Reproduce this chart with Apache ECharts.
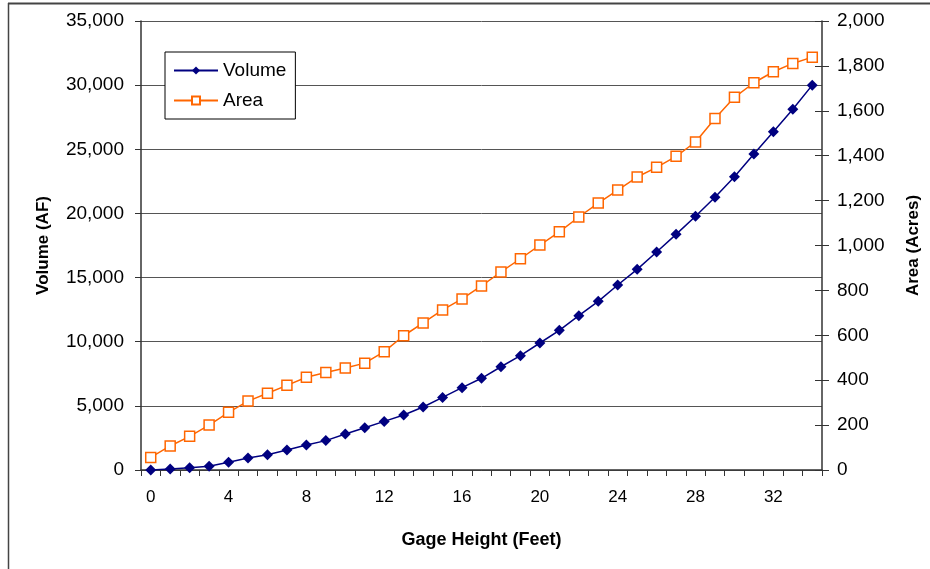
<!DOCTYPE html>
<html lang="en">
<head>
    <meta charset="UTF-8">
    <title>Gage Height - Volume / Area</title>
    <script type="text/javascript" src="https://cdn.jsdelivr.net/npm/echarts@6/dist/echarts.min.js"></script>
    <style>
        html, body { margin: 0; padding: 0; background: #fff; }
    </style>
</head>
<body>
    <div id="main" style="width: 930px;height:569px;"></div>
    <script type="text/javascript">
        // gage height in feet, 0..34
        const heights = ['0', '1', '2', '3', '4', '5', '6', '7', '8', '9', '10', '11', '12', '13', '14', '15', '16',
            '17', '18', '19', '20', '21', '22', '23', '24', '25', '26', '27', '28', '29', '30', '31', '32', '33', '34'];

        // volume (AF)
        const volume = [0, 80, 180, 290, 600, 935, 1190, 1560, 1950, 2290, 2800, 3300, 3790, 4290, 4910, 5660, 6420,
            7150, 8050, 8910, 9900, 10890, 12030, 13150, 14420, 15640, 16990, 18370, 19780, 21260, 22860, 24630,
            26370, 28120, 30000];

        // area (acres)
        const area = [56, 107, 150, 200, 257, 307, 342, 377, 413, 434, 454, 476, 527, 598, 655, 713, 762,
            820, 882, 941, 1002, 1061, 1127, 1189, 1247, 1305, 1348, 1397, 1461, 1566, 1660, 1725,
            1774, 1811, 1839];

        const fontName = 'Liberation Sans, Arial, sans-serif';
        const fmt = function (v) { return v.toLocaleString('en-US'); };

        const myChart = echarts.init(document.getElementById('main'));
        const option = {
            animation: false,
            backgroundColor: '#fff',
            grid: {
                left: 141,
                right: 107,
                top: 21,
                bottom: 99,
                containLabel: false
            },
            legend: {
                orient: 'vertical',
                left: 165,
                top: 52,
                padding: [9, 9, 9, 8],
                itemGap: 11,
                itemWidth: 44,
                itemHeight: 10,
                borderColor: '#000',
                borderWidth: 1,
                borderRadius: 0,
                backgroundColor: '#fff',
                textStyle: { fontFamily: fontName, fontSize: 19, color: '#000' },
                data: ['Volume', 'Area']
            },
            xAxis: {
                type: 'category',
                data: heights,
                boundaryGap: true,
                name: 'Gage Height (Feet)',
                nameLocation: 'middle',
                nameGap: 61,
                nameTextStyle: { fontFamily: fontName, fontSize: 18, fontWeight: 'bold', color: '#000' },
                axisLine: { lineStyle: { color: '#333', width: 1.5 } },
                axisTick: { show: true, interval: 0, length: 6, lineStyle: { color: '#333' } },
                axisLabel: { interval: 3, margin: 19, fontFamily: fontName, fontSize: 17, color: '#000' },
                splitLine: { show: false }
            },
            yAxis: [{
                type: 'value',
                min: 0,
                max: 35000,
                interval: 5000,
                name: 'Volume (AF)',
                nameLocation: 'middle',
                nameGap: 89,
                nameTextStyle: { fontFamily: fontName, fontSize: 17, fontWeight: 'bold', color: '#000' },
                axisLine: { show: true, lineStyle: { color: '#333', width: 1.5 } },
                axisTick: { show: true, length: 6, lineStyle: { color: '#333' } },
                axisLabel: { margin: 17, fontFamily: fontName, fontSize: 19, color: '#000', formatter: fmt },
                splitLine: { show: true, lineStyle: { color: '#555', width: 1 } }
            }, {
                type: 'value',
                min: 0,
                max: 2000,
                interval: 200,
                name: 'Area (Acres)',
                nameLocation: 'middle',
                nameGap: 83,
                nameRotate: 90,
                nameTextStyle: { fontFamily: fontName, fontSize: 17, fontWeight: 'bold', color: '#000' },
                axisLine: { show: true, lineStyle: { color: '#333', width: 1.5 } },
                axisTick: { show: true, length: 7, lineStyle: { color: '#333' } },
                axisLabel: { margin: 15, fontFamily: fontName, fontSize: 19, color: '#000', formatter: fmt },
                splitLine: { show: false }
            }, {
                // inner half of the crossing ticks on the right axis
                type: 'value',
                position: 'right',
                min: 0,
                max: 2000,
                interval: 200,
                axisLine: { show: false },
                axisTick: { show: true, inside: true, length: 7, lineStyle: { color: '#333' } },
                axisLabel: { show: false },
                splitLine: { show: false }
            }],
            series: [{
                name: 'Volume',
                type: 'line',
                yAxisIndex: 0,
                data: volume,
                symbol: 'diamond',
                symbolSize: 11,
                lineStyle: { color: '#000080', width: 1.5 },
                itemStyle: { color: '#000080' }
            }, {
                name: 'Area',
                type: 'line',
                yAxisIndex: 1,
                data: area,
                symbol: 'rect',
                symbolSize: 10,
                lineStyle: { color: '#FF6600', width: 1.5 },
                itemStyle: { color: '#fff', borderColor: '#FF6600', borderWidth: 1.5 }
            }],
            graphic: [{
                type: 'line',
                shape: { x1: 8, y1: 3.5, x2: 930, y2: 3.5 },
                style: { stroke: '#444', lineWidth: 2 }
            }, {
                type: 'line',
                shape: { x1: 8.5, y1: 3, x2: 8.5, y2: 569 },
                style: { stroke: '#444', lineWidth: 1.5 }
            }]
        };
        myChart.setOption(option);
    </script>
</body>
</html>
